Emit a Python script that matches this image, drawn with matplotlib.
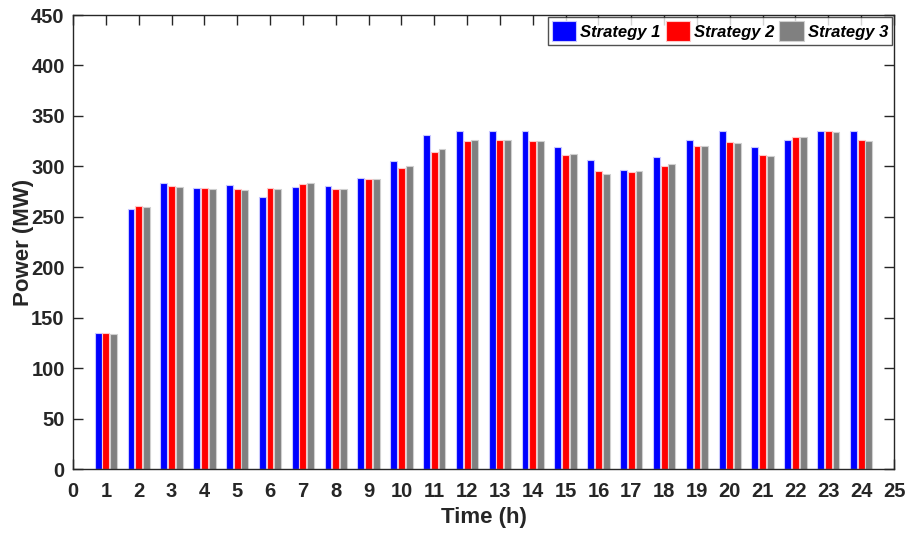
import matplotlib
matplotlib.use('Agg')
import matplotlib.pyplot as plt
import numpy as np

plt.rcParams['font.family'] = ['Liberation Sans', 'DejaVu Sans']

hours = np.arange(1, 25)
strategy1 = [135, 258, 284, 279, 282, 270, 280, 281, 288, 305, 331, 335,
             335, 335, 319, 306, 296, 309, 326, 335, 319, 326, 335, 335]
strategy2 = [135, 261, 281, 279, 278, 279, 283, 278, 287, 298, 314, 325,
             326, 325, 311, 295, 294, 300, 320, 324, 311, 329, 335, 326]
strategy3 = [134, 260, 280, 278, 277, 278, 284, 278, 287, 300, 317, 326,
             326, 325, 312, 292, 295, 302, 320, 323, 310, 329, 334, 325]
labels = ['Strategy 1', 'Strategy 2', 'Strategy 3']
colors = ['#0000ff', '#ff0000', '#808080']
edges = ['#c8c8ff', '#ffc8c8', '#d0d0d0']

fig = plt.figure(figsize=(9.09, 5.37), dpi=100)
ax = fig.add_axes([0.0803, 0.1266, 0.9032, 0.8454])

w = 0.21
off = 0.235
for k, vals in enumerate([strategy1, strategy2, strategy3]):
    ax.bar(hours + (k - 1) * off, vals, width=w, color=colors[k],
           edgecolor=edges[k], linewidth=0.8, label=labels[k], zorder=2)

ax.set_xlim(0, 25)
ax.set_ylim(0, 450)
ax.set_xticks(np.arange(0, 26))
ax.set_yticks(np.arange(0, 451, 50))

axcol = '#262626'
for s in ax.spines.values():
    s.set_color(axcol)
    s.set_linewidth(1.0)
ax.tick_params(direction='in', length=7, width=1.0, color=axcol,
               top=True, right=True, labelsize=14.5, labelcolor=axcol)
ax.tick_params(axis='x', pad=9)
ax.tick_params(axis='y', pad=6)
for t in ax.get_xticklabels() + ax.get_yticklabels():
    t.set_fontweight('bold')

ax.set_xlabel('Time (h)', fontsize=16, fontweight='bold', color=axcol, labelpad=5)
ax.set_ylabel('Power (MW)', fontsize=16, fontweight='bold', color=axcol, labelpad=-2)

leg = ax.legend(loc='upper right', ncol=3, frameon=True, fancybox=False,
                borderaxespad=0.1, handlelength=1.45, handleheight=1.5,
                handletextpad=0.25, columnspacing=0.3, borderpad=0.25,
                prop={'weight': 'bold', 'style': 'italic', 'size': 12})
leg.get_frame().set_edgecolor(axcol)
leg.get_frame().set_linewidth(1.0)

fig.savefig('out.png', dpi=100)
